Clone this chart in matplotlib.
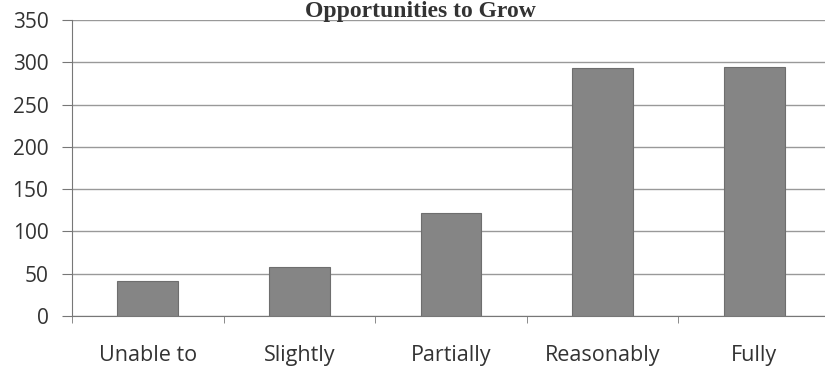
import matplotlib.pyplot as plt
import numpy as np

categories = ['Unable to', 'Slightly', 'Partially', 'Reasonably', 'Fully']
counts = [41, 58, 122, 293, 294]
y_ticks = [0, 50, 100, 150, 200, 250, 300, 350]

plt.rcParams['font.family'] = ['Open Sans', 'DejaVu Sans']

fig = plt.figure(figsize=(8.25, 3.76), dpi=100)
ax = fig.add_axes([72 / 825, 60 / 376, 758 / 825, 296 / 376])

x = np.arange(len(categories))
ax.bar(x, counts, width=0.4, color='#858585', edgecolor='#6e6e6e', linewidth=0.8, zorder=3)

ax.set_xlim(-0.5, len(categories) - 0.5)
ax.set_ylim(0, 350)
ax.set_yticks(y_ticks)
ax.set_yticklabels([str(v) for v in y_ticks], fontsize=15, color='#333333')
ax.set_xticks(x)
ax.set_xticklabels(categories, fontsize=15.5, color='#333333')

# category boundary ticks like Excel
ax.set_xticks(np.arange(len(categories) + 1) - 0.5, minor=True)
ax.tick_params(axis='x', which='major', length=0, pad=21)
ax.tick_params(axis='x', which='minor', length=5, color='#777777', direction='out')
ax.tick_params(axis='y', length=7, color='#777777', pad=10)

ax.grid(axis='y', color='#999999', linewidth=1.0, zorder=0)
for side in ['top', 'right']:
    ax.spines[side].set_visible(False)
ax.spines['left'].set_color('#777777')
ax.spines['bottom'].set_color('#777777')

fig.text(0.51, 1 - 17 / 376, 'Opportunities to Grow', ha='center', va='baseline',
         fontsize=17, fontweight='bold', family=['Liberation Serif', 'DejaVu Serif'],
         color='#333333')

fig.savefig('out.png', dpi=100, facecolor='white')
